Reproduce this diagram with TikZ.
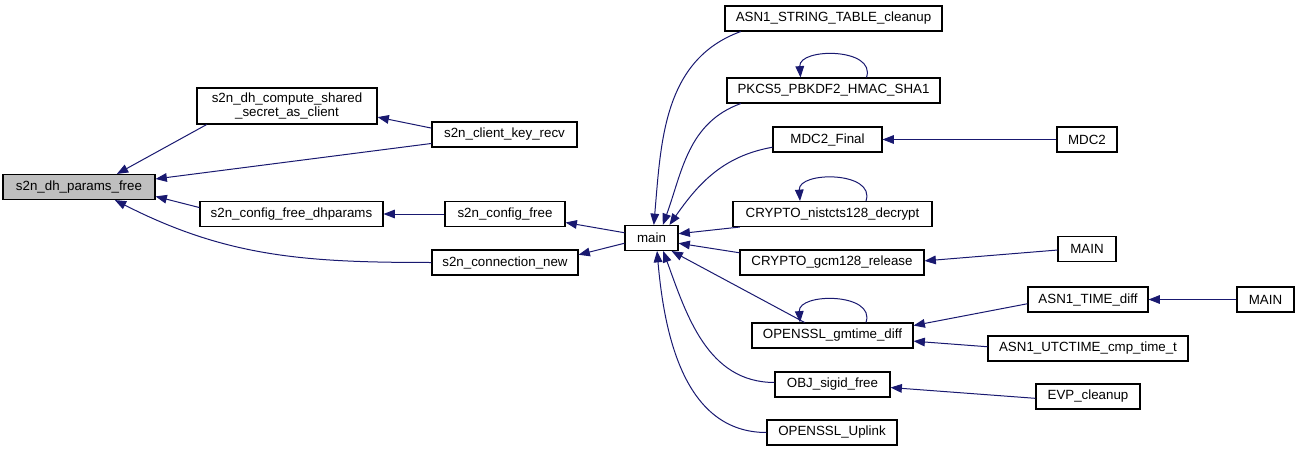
\documentclass[tikz,border=0pt]{standalone}
\usepackage{fontspec}
\setmainfont{Liberation Sans}
\usepackage{tikz}
\usetikzlibrary{arrows.meta, calc}
\definecolor{edgeblue}{RGB}{25, 25, 112}
\definecolor{focusgray}{RGB}{191, 191, 191}

\begin{document}
\begin{tikzpicture}[
  x=0.75pt, y=-0.75pt,
  fn/.style={draw=black, fill=white, line width=0.8pt, inner sep=2pt,
             minimum height=18.75pt, align=center,
             font=\fontsize{10pt}{10.5pt}\selectfont},
  fnhl/.style={fn, fill=focusgray},
  call/.style={{Triangle[length=8.5pt, width=6.5pt]}-, line width=0.75pt, color=edgeblue}
]
  \useasboundingbox (0,0) rectangle (1296,453);

  % callers on the left
  \node[fnhl, minimum width=114pt]   (dhfree)    at (79,187)    {s2n\_dh\_params\_free};
  \node[fn, minimum width=135pt, minimum height=27pt] (dhcompute) at (287,106)
       {s2n\_dh\_compute\_shared\\\_secret\_as\_client};
  \node[fn, minimum width=108.75pt]  (clientkey) at (504.5,134.5) {s2n\_client\_key\_recv};
  \node[fn, minimum width=137.25pt]  (cfgdh)     at (291.5,214) {s2n\_config\_free\_dhparams};
  \node[fn, minimum width=90pt]      (cfgfree)   at (505,214)   {s2n\_config\_free};
  \node[fn, minimum width=109.5pt]   (connnew)   at (505,262.5) {s2n\_connection\_new};
  \node[fn, minimum width=39.75pt]   (main)      at (651.5,238) {main};

  % callers of main
  \node[fn, minimum width=162.75pt]  (asntab)    at (833.5,18.5)  {ASN1\_STRING\_TABLE\_cleanup};
  \node[fn, minimum width=159.75pt]  (pkcs)      at (833.5,90.5)  {PKCS5\_PBKDF2\_HMAC\_SHA1};
  \node[fn, minimum width=81.75pt]   (mdcfinal)  at (827.5,139.5) {MDC2\_Final};
  \node[fn, minimum width=45pt]      (mdc)       at (1087,139.5)  {MDC2};
  \node[fn, minimum width=149.25pt]  (nistcts)   at (832.5,214)   {CRYPTO\_nistcts128\_decrypt};
  \node[fn, minimum width=138pt]     (gcm)       at (832,262.5)   {CRYPTO\_gcm128\_release};
  \node[fn, minimum width=43.5pt]    (mainA)     at (1087,249)    {MAIN};
  \node[fn, minimum width=120.75pt]  (gmtime)    at (832.5,335.5) {OPENSSL\_gmtime\_diff};
  \node[fn, minimum width=90pt]      (timediff)  at (1088,299.5)  {ASN1\_TIME\_diff};
  \node[fn, minimum width=42.75pt]   (mainB)     at (1265.5,299.5) {MAIN};
  \node[fn, minimum width=150pt]     (utccmp)    at (1088,348.5)  {ASN1\_UTCTIME\_cmp\_time\_t};
  \node[fn, minimum width=86.25pt]   (sigid)     at (832.5,384.5) {OBJ\_sigid\_free};
  \node[fn, minimum width=78pt]      (evpclean)  at (1088,396.5)  {EVP\_cleanup};
  \node[fn, minimum width=97.5pt]    (uplink)    at (832,432.5)   {OPENSSL\_Uplink};

  % edges, arrow tip at the callee
  \draw[call] (dhfree.19)   -- (dhcompute.193);
  \draw[call] (dhcompute.-7) -- (clientkey.175);
  \draw[call] (dhfree.6)    -- (clientkey.187);
  \draw[call] (dhfree.-7)   -- (cfgdh.176);
  \draw[call] (cfgdh.east)  -- (cfgfree.west);
  \draw[call] (dhfree.-20)  to[out=-27, in=180] (connnew.west);
  \draw[call] (cfgfree.-8)  -- (main.169);
  \draw[call] (connnew.6)   -- (main.191);

  \draw[call] (main.80)  to[out=85, in=200] (asntab.188);
  \draw[call] (main.49)  to[out=70, in=200] (pkcs.188);
  \draw[call] ($(pkcs.north)+(-33,0)$) .. controls +(-2,-30) and +(10,-30) .. ($(pkcs.north)+(33,0)$);
  \draw[call] (main.36)  to[out=55, in=190] (mdcfinal.188);
  \draw[call] (mdcfinal.east) -- (mdc.west);
  \draw[call] (main.9)   -- (nistcts.188);
  \draw[call] ($(nistcts.north)+(-32.5,0)$) .. controls +(-2,-30) and +(10,-30) .. ($(nistcts.north)+(33.5,0)$);
  \draw[call] (main.-11) -- (gcm.174);
  \draw[call] (gcm.1)    -- (mainA.182);
  \draw[call] (main.-33) -- (gmtime.155);
  \draw[call] ($(gmtime.north)+(-32.5,0)$) .. controls +(-2,-30) and +(10,-30) .. ($(gmtime.north)+(33.5,0)$);
  \draw[call] (gmtime.7)  -- (timediff.184);
  \draw[call] (timediff.east) -- (mainB.west);
  \draw[call] (gmtime.-4) -- (utccmp.179);
  \draw[call] (main.-48) to[out=-70, in=180] (sigid.178);
  \draw[call] (sigid.-3)  -- (evpclean.182);
  \draw[call] (main.-67) to[out=-85, in=180] (uplink.west);
\end{tikzpicture}
\end{document}
